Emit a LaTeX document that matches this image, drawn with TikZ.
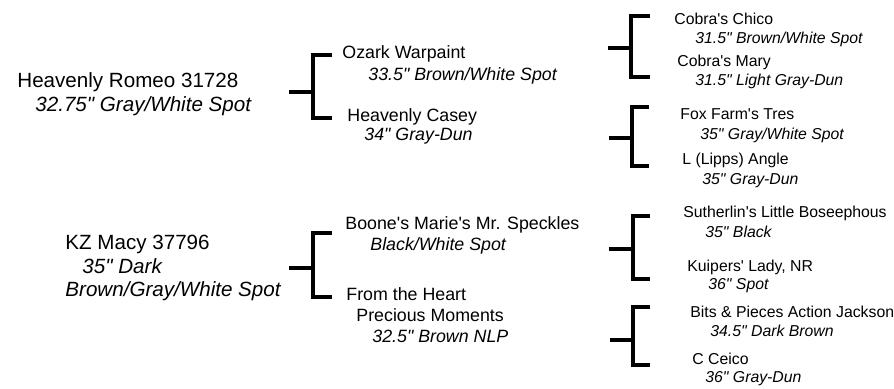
\documentclass[tikz,border=0pt]{standalone}
\usepackage{fontspec}
\setmainfont{Liberation Sans}[Ligatures=TeXOff]
\usepackage{tikz}
\tikzset{bracket/.style={line width=1.7pt}}
\tikzset{lname/.style={anchor=base west, inner sep=0pt, font=\fontsize{10.3}{12}\selectfont}}
\tikzset{ldata/.style={lname, font=\fontsize{10.3}{12}\selectfont\itshape}}
\tikzset{mname/.style={anchor=base west, inner sep=0pt, font=\fontsize{8.9}{11}\selectfont}}
\tikzset{mdata/.style={mname, font=\fontsize{8.9}{11}\selectfont\itshape}}
\tikzset{rname/.style={anchor=base west, inner sep=0pt, font=\fontsize{7.9}{9.5}\selectfont}}
\tikzset{rdata/.style={rname, font=\fontsize{7.9}{9.5}\selectfont\itshape}}

\begin{document}
\begin{tikzpicture}[x=0.5pt, y=-0.5pt]
    \useasboundingbox(0, 0)rectangle(894, 389);
    \node[lname](hr)at(17, 88){Heavenly Romeo 31728};
    \node[ldata](hrd)at(35, 112){32.75" Gray/White Spot};
    \node[lname](kz)at(65, 250){KZ Macy 37796};
    \node[ldata](kzd)at(82, 274){35" Dark};
    \node[ldata](kze)at(65, 297){Brown/Gray/White Spot};

    \node[mname](ow)at(342, 59){Ozark Warpaint};
    \node[mdata](owd)at(368, 81){33.5" Brown/White Spot};
    \node[mname](hc)at(347, 122){Heavenly Casey};
    \node[mdata](hcd)at(364, 141){34" Gray-Dun};
    \node[mname](bm)at(345, 230){Boone's Marie's Mr. Speckles};
    \node[mdata](bmd)at(370, 251){Black/White Spot};
    \node[mname](fh)at(346, 301){From the Heart};
    \node[mname](fhb)at(356, 322){Precious Moments};
    \node[mdata](fhd)at(372, 343){32.5" Brown NLP};

    \node[rname](cc)at(674, 25){Cobra's Chico};
    \node[rdata](ccd)at(695, 44){31.5" Brown/White Spot};
    \node[rname](cm)at(677, 67){Cobra's Mary};
    \node[rdata](cmd)at(695, 86){31.5" Light Gray-Dun};
    \node[rname](ft)at(680, 120){Fox Farm's Tres};
    \node[rdata](ftd)at(700, 140){35" Gray/White Spot};
    \node[rname](la)at(682, 165){L (Lipps) Angle};
    \node[rdata](lad)at(702, 185){35" Gray-Dun};
    \node[rname](sl)at(683, 218){Sutherlin's Little Boseephous};
    \node[rdata](sld)at(705, 238){35" Black};
    \node[rname](kl)at(687, 272){Kuipers' Lady, NR};
    \node[rdata](kld)at(708, 290){36" Spot};
    \node[rname](bp)at(690, 318){Bits \& Pieces Action Jackson};
    \node[rdata](bpd)at(710, 337){34.5" Dark Brown};
    \node[rname](ce)at(692, 365){C Ceico};
    \node[rdata](ced)at(705, 383){36" Gray-Dun};

    \coordinate(hrs)at(289, 92);
    \coordinate(hrj)at(313, 92);
    \coordinate(owa)at(332, 55);
    \coordinate(hca)at(332, 118);
    \draw[bracket](hrs)--(hrj);
    \draw[bracket](owa)-|(hrj)|-(hca);

    \coordinate(kzs)at(289, 268);
    \coordinate(kzj)at(313, 268);
    \coordinate(bma)at(332, 233);
    \coordinate(fha)at(332, 297);
    \draw[bracket](kzs)--(kzj);
    \draw[bracket](bma)-|(kzj)|-(fha);

    \coordinate(ows)at(608, 48);
    \coordinate(owj)at(631, 48);
    \coordinate(cca)at(650, 16);
    \coordinate(cma)at(650, 77);
    \draw[bracket](ows)--(owj);
    \draw[bracket](cca)-|(owj)|-(cma);

    \coordinate(hcs)at(609, 138);
    \coordinate(hcj)at(632, 138);
    \coordinate(fta)at(649, 107);
    \coordinate(laa)at(649, 166);
    \draw[bracket](hcs)--(hcj);
    \draw[bracket](fta)-|(hcj)|-(laa);

    \coordinate(bms)at(609, 249);
    \coordinate(bmj)at(633, 249);
    \coordinate(sla)at(650, 216);
    \coordinate(kla)at(650, 279);
    \draw[bracket](bms)--(bmj);
    \draw[bracket](sla)-|(bmj)|-(kla);

    \coordinate(fhs)at(610, 340);
    \coordinate(fhj)at(633, 340);
    \coordinate(bpa)at(650, 307);
    \coordinate(cea)at(650, 365);
    \draw[bracket](fhs)--(fhj);
    \draw[bracket](bpa)-|(fhj)|-(cea);
\end{tikzpicture}
\end{document}
